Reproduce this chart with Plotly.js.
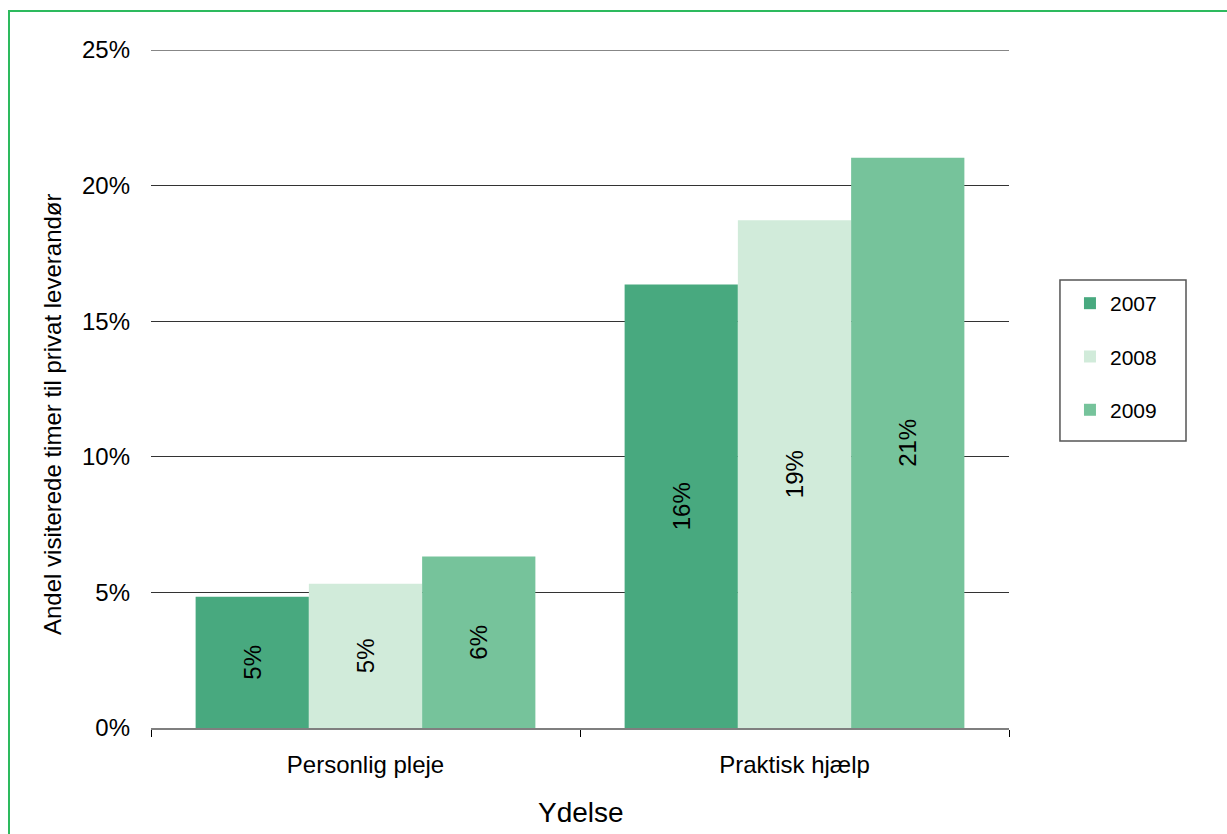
<!DOCTYPE html>
<html>
<head>
<meta charset="utf-8">
<script src="https://cdn.plot.ly/plotly-3.0.1.min.js"></script>
<style>
  html, body { margin: 0; padding: 0; background: #fff; }
  #frame { position: absolute; left: 8px; top: 10px; width: 1219px; height: 824px;
           border-left: 2px solid #2DBA5E; border-top: 2px solid #2DBA5E; box-sizing: border-box; }
  #chart { position: absolute; left: 0; top: 0; width: 1227px; height: 834px; }
</style>
</head>
<body>
<div id="frame"></div>
<div id="chart"></div>
<script>
const categories = ["Personlig pleje", "Praktisk hjælp"];
const years = ["2007", "2008", "2009"];
const values2007 = [4.84, 16.35];
const values2008 = [5.32, 18.72];
const values2009 = [6.32, 21.03];
const yTickVals = [0, 5, 10, 15, 20, 25];
const colors = ["#48A97F", "#D1EBDA", "#76C39B"];

const series = [values2007, values2008, values2009];
const FONT = '"Liberation Sans", Arial, sans-serif';
const yMax = yTickVals[yTickVals.length - 1];

const traces = series.map((vals, i) => ({
  type: 'bar',
  name: years[i],
  x: categories,
  y: vals,
  marker: { color: colors[i], line: { width: 0 } },
  texttemplate: '%{y:.0f}%',
  textposition: 'inside',
  insidetextanchor: 'middle',
  textangle: -90,
  textfont: { family: FONT, size: 24, color: '#000' },
  constraintext: 'none',
  legendgroup: years[i],
  hoverinfo: 'skip'
}));

const layout = {
  width: 1227,
  height: 834,
  margin: { l: 151, r: 218, t: 50, b: 106, pad: 0 },
  paper_bgcolor: 'rgba(0,0,0,0)',
  plot_bgcolor: 'rgba(0,0,0,0)',
  font: { family: FONT, color: '#000' },
  barmode: 'group',
  bargap: 0.208,
  bargroupgap: 0,
  showlegend: true,
  legend: {
    x: 1.0594, xanchor: 'left',
    y: 0.6563, yanchor: 'top',
    borderwidth: 0,
    bgcolor: 'rgba(0,0,0,0)',
    font: { family: FONT, size: 21, color: '#000' },
    tracegroupgap: 23,
    indentation: 10,
    traceorder: 'grouped'
  },
  shapes: [
    {
      type: 'rect', xref: 'paper', yref: 'paper',
      x0: 1.0594, x1: 1.2063, y0: 0.4233, y1: 0.6608,
      line: { color: '#555', width: 1.5 }, fillcolor: 'rgba(0,0,0,0)', layer: 'above'
    },
    {
      type: 'line', xref: 'paper', yref: 'y',
      x0: 0, x1: 1, y0: yMax, y1: yMax,
      line: { color: '#111', width: 1.2 }, layer: 'below'
    }
  ],
  annotations: [
    { text: 'Andel visiterede timer til privat leverandør', xref: 'paper', yref: 'paper',
      x: -0.1154, y: 0.4631, xanchor: 'center', yanchor: 'middle', textangle: -90,
      showarrow: false, font: { family: FONT, size: 24, color: '#000' } },
    { text: 'Ydelse', xref: 'paper', yref: 'paper',
      x: 0.5012, y: -0.1239, xanchor: 'center', yanchor: 'middle',
      showarrow: false, font: { family: FONT, size: 28, color: '#000' } }
  ],
  xaxis: {
    type: 'category',
    showgrid: false,
    showline: true,
    linecolor: '#7F7F7F',
    linewidth: 2,
    ticks: 'outside',
    tickson: 'boundaries',
    ticklen: 7,
    tickcolor: '#000',
    tickwidth: 1,
    ticklabelstandoff: 14,
    tickfont: { family: FONT, size: 24, color: '#000' },
    fixedrange: true
  },
  yaxis: {
    range: [0, yMax],
    tickvals: yTickVals,
    ticktext: yTickVals.map(v => v + '%'),
    showgrid: true,
    gridcolor: '#333',
    gridwidth: 1,
    zeroline: false,
    showline: false,
    ticks: '',
    ticklabelstandoff: 20,
    tickfont: { family: FONT, size: 24, color: '#000' },
    fixedrange: true
  }
};

Plotly.newPlot('chart', traces, layout, { displayModeBar: false, staticPlot: true });
</script>
</body>
</html>
